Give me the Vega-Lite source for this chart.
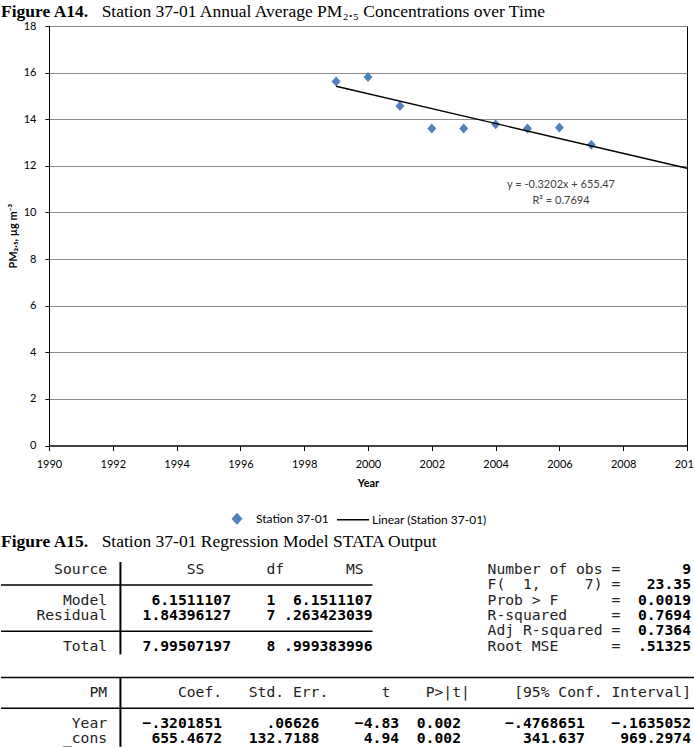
{
  "$schema": "https://vega.github.io/schema/vega-lite/v6.json",
  "background": "white",
  "padding": {"top": 2, "left": 0, "right": 0, "bottom": 0},
  "spacing": 43,
  "config": {
    "view": {"stroke": null},
    "axis": {"labelFont": "Lato", "titleFont": "Lato"}
  },
  "datasets": {
    "pm": [
      {"year": 1999, "pm": 15.62, "series": "Station 37-01"},
      {"year": 2000, "pm": 15.81, "series": "Station 37-01"},
      {"year": 2001, "pm": 14.57, "series": "Station 37-01"},
      {"year": 2002, "pm": 13.60, "series": "Station 37-01"},
      {"year": 2003, "pm": 13.60, "series": "Station 37-01"},
      {"year": 2004, "pm": 13.78, "series": "Station 37-01"},
      {"year": 2005, "pm": 13.60, "series": "Station 37-01"},
      {"year": 2006, "pm": 13.64, "series": "Station 37-01"},
      {"year": 2007, "pm": 12.90, "series": "Station 37-01"}
    ],
    "trend": [
      {"year": 1999, "pm": 15.417, "series": "Linear (Station 37-01)"},
      {"year": 2010, "pm": 11.895, "series": "Linear (Station 37-01)"}
    ],
    "anova_head": [
      {"row": "header1", "Source": "Source", "SS": "SS", "df": "df", "MS": "MS"}
    ],
    "anova": [
      {"Source": "Model", "SS": "6.1511107", "df": "1", "MS": "6.1511107"},
      {"Source": "Residual", "SS": "1.84396127", "df": "7", "MS": ".263423039"},
      {"Source": "Total", "SS": "7.99507197", "df": "8", "MS": ".999383996"}
    ],
    "fit": [
      {"row": "header1", "stat": "Number of obs", "value": "9"},
      {"row": "rule1", "stat": "F(\u00a0\u00a01,\u00a0\u00a0\u00a0\u00a0\u00a07)", "value": "23.35"},
      {"row": "Model", "stat": "Prob > F", "value": "0.0019"},
      {"row": "Residual", "stat": "R-squared", "value": "0.7694"},
      {"row": "rule2", "stat": "Adj R-squared", "value": "0.7364"},
      {"row": "Total", "stat": "Root MSE", "value": ".51325"}
    ],
    "coef_head": [
      {"row": "header2", "PM": "PM", "coef": "Coef.", "se": "Std. Err.", "t": "t", "p": "P>|t|", "ci": "[95% Conf. Interval]"}
    ],
    "coef": [
      {"PM": "Year", "coef": "\u2212.3201851", "se": ".06626", "t": "\u22124.83", "p": "0.002", "lo": "\u2212.4768651", "hi": "\u2212.1635052"},
      {"PM": "_cons", "coef": "655.4672", "se": "132.7188", "t": "4.94", "p": "0.002", "lo": "341.637", "hi": "969.2974"}
    ]
  },
  "vconcat": [
    {
      "width": 638,
      "height": 419.5,
      "view": {"stroke": "#000000", "strokeWidth": 1},
      "title": {
        "text": "Figure A14.",
        "subtitle": "\u200b\u00a0\u00a0\u00a0\u00a0\u00a0\u00a0\u00a0\u00a0\u00a0\u00a0\u00a0\u00a0\u00a0\u00a0\u00a0\u00a0\u00a0\u00a0\u00a0\u00a0\u00a0\u00a0\u00a0Station 37-01 Annual Average PM\u2082.\u2085 Concentrations over Time",
        "anchor": "start",
        "frame": "group",
        "dx": -48,
        "offset": 0,
        "font": "Liberation Serif",
        "fontSize": 17.5,
        "fontWeight": "bold",
        "color": "#000000",
        "subtitleFont": "Liberation Serif",
        "subtitleFontSize": 17.5,
        "subtitleFontWeight": "normal",
        "subtitleColor": "#000000",
        "subtitlePadding": -17.5
      },
      "layer": [
        {
          "data": {"name": "pm"},
          "mark": {"type": "point", "filled": true, "opacity": 1, "size": 1024, "strokeWidth": 1.5},
          "encoding": {
            "x": {
              "field": "year", "type": "quantitative",
              "scale": {"domain": [1990, 2010], "nice": false, "zero": false},
              "axis": {
                "values": [1990, 1992, 1994, 1996, 1998, 2000, 2002, 2004, 2006, 2008, 2010],
                "format": "d", "title": "Year", "grid": false, "labelFlush": false,
                "labelFontSize": 11, "labelColor": "#000000", "labelPadding": 8,
                "tickSize": 5, "tickColor": "#000000", "domainColor": "#000000",
                "titleFontSize": 11, "titleFontWeight": "bold", "titleColor": "#000000", "titlePadding": 8
              }
            },
            "y": {
              "field": "pm", "type": "quantitative",
              "scale": {"domain": [0, 18], "nice": false},
              "axis": {
                "values": [0, 2, 4, 6, 8, 10, 12, 14, 16, 18],
                "title": "PM\u2082.\u2085, \u00b5g m\u207b\u00b3", "grid": true, "gridColor": "#8c8c8c", "gridWidth": 1,
                "labelFlush": false,
                "labelFontSize": 11, "labelColor": "#000000", "labelPadding": 9,
                "tickSize": 4, "tickColor": "#000000", "domainColor": "#000000",
                "titleFontSize": 11, "titleFontWeight": "bold", "titleColor": "#000000", "titlePadding": 5
              }
            },
            "color": {
              "field": "series", "type": "nominal",
              "scale": {"domain": ["Station 37-01", "Linear (Station 37-01)"], "range": ["#4f81bd", "#000000"]},
              "legend": {
                "orient": "none", "legendX": 171, "legendY": 475.75, "direction": "horizontal",
                "title": null, "padding": 0, "labelFont": "Lato", "labelFontSize": 12, "labelColor": "#000000",
                "labelOffset": 2, "columnPadding": 5, "symbolSize": 1024, "symbolStrokeWidth": 1.5
              }
            },
            "shape": {
              "field": "series", "type": "nominal",
              "scale": {"domain": ["Station 37-01", "Linear (Station 37-01)"], "range": ["M-0.28,0L0,-0.31L0.28,0L0,0.31Z", "stroke"]},
              "legend": {
                "orient": "none", "legendX": 171, "legendY": 475.75, "direction": "horizontal",
                "title": null, "padding": 0, "labelFont": "Lato", "labelFontSize": 12, "labelColor": "#000000",
                "labelOffset": 2, "columnPadding": 5, "symbolSize": 1024, "symbolStrokeWidth": 1.5
              }
            }
          }
        },
        {
          "data": {"name": "trend"},
          "mark": {"type": "line", "strokeWidth": 1.4},
          "encoding": {
            "x": {"field": "year", "type": "quantitative"},
            "y": {"field": "pm", "type": "quantitative"},
            "color": {"field": "series", "type": "nominal"}
          }
        },
        {
          "data": {"values": [{"eq": "y = -0.3202x + 655.47\nR\u00b2 = 0.7694"}]},
          "mark": {"type": "text", "lineBreak": "\n", "lineHeight": 16, "font": "Lato", "fontSize": 11, "color": "#404040", "baseline": "middle", "align": "center"},
          "encoding": {
            "x": {"datum": 2006.05, "type": "quantitative"},
            "y": {"datum": 11.16, "type": "quantitative"},
            "text": {"field": "eq"}
          }
        }
      ]
    },
    {
      "width": 638,
      "height": 184.8,
      "view": {"stroke": null},
      "title": {
        "text": "Figure A15.",
        "subtitle": "\u200b\u00a0\u00a0\u00a0\u00a0\u00a0\u00a0\u00a0\u00a0\u00a0\u00a0\u00a0\u00a0\u00a0\u00a0\u00a0\u00a0\u00a0\u00a0\u00a0\u00a0\u00a0\u00a0\u00a0Station 37-01 Regression Model STATA Output",
        "anchor": "start",
        "frame": "group",
        "dx": -48,
        "offset": 11,
        "font": "Liberation Serif",
        "fontSize": 17.5,
        "fontWeight": "bold",
        "color": "#000000",
        "subtitleFont": "Liberation Serif",
        "subtitleFontSize": 17.5,
        "subtitleFontWeight": "normal",
        "subtitleColor": "#000000",
        "subtitlePadding": -17.5
      },
      "layer": [
        {"data": {"name": "anova_head"}, "mark": {"type": "text", "font": "DejaVu Sans Mono", "fontSize": 14.7, "align": "right", "baseline": "middle", "color": "#222222"},
         "encoding": {"x": {"datum": 12, "type": "quantitative", "scale": {"domain": [0, 78], "range": [-48, 642], "nice": false, "zero": false}, "axis": null},
                      "y": {"field": "row", "type": "nominal", "scale": {"type": "band", "domain": ["header1", "rule1", "Model", "Residual", "rule2", "Total", "blank", "rule3", "header2", "rule4", "Year", "_cons"], "paddingInner": 0, "paddingOuter": 0}, "axis": null},
                      "text": {"field": "Source"}}},
        {"data": {"name": "anova_head"}, "mark": {"type": "text", "font": "DejaVu Sans Mono", "fontSize": 14.7, "align": "right", "baseline": "middle", "color": "#222222"},
         "encoding": {"x": {"datum": 23, "type": "quantitative", "axis": null}, "y": {"field": "row", "type": "nominal", "axis": null}, "text": {"field": "SS"}}},
        {"data": {"name": "anova_head"}, "mark": {"type": "text", "font": "DejaVu Sans Mono", "fontSize": 14.7, "align": "right", "baseline": "middle", "color": "#222222"},
         "encoding": {"x": {"datum": 32, "type": "quantitative", "axis": null}, "y": {"field": "row", "type": "nominal", "axis": null}, "text": {"field": "df"}}},
        {"data": {"name": "anova_head"}, "mark": {"type": "text", "font": "DejaVu Sans Mono", "fontSize": 14.7, "align": "right", "baseline": "middle", "color": "#222222"},
         "encoding": {"x": {"datum": 41, "type": "quantitative", "axis": null}, "y": {"field": "row", "type": "nominal", "axis": null}, "text": {"field": "MS"}}},

        {"data": {"name": "anova"}, "mark": {"type": "text", "font": "DejaVu Sans Mono", "fontSize": 14.7, "align": "right", "baseline": "middle", "color": "#222222"},
         "encoding": {"x": {"datum": 12, "type": "quantitative", "axis": null}, "y": {"field": "Source", "type": "nominal", "axis": null}, "text": {"field": "Source"}}},
        {"data": {"name": "anova"}, "mark": {"type": "text", "font": "DejaVu Sans Mono", "fontSize": 14.7, "fontWeight": "bold", "align": "right", "baseline": "middle", "color": "#000000"},
         "encoding": {"x": {"datum": 26, "type": "quantitative", "axis": null}, "y": {"field": "Source", "type": "nominal", "axis": null}, "text": {"field": "SS"}}},
        {"data": {"name": "anova"}, "mark": {"type": "text", "font": "DejaVu Sans Mono", "fontSize": 14.7, "fontWeight": "bold", "align": "right", "baseline": "middle", "color": "#000000"},
         "encoding": {"x": {"datum": 31, "type": "quantitative", "axis": null}, "y": {"field": "Source", "type": "nominal", "axis": null}, "text": {"field": "df"}}},
        {"data": {"name": "anova"}, "mark": {"type": "text", "font": "DejaVu Sans Mono", "fontSize": 14.7, "fontWeight": "bold", "align": "right", "baseline": "middle", "color": "#000000"},
         "encoding": {"x": {"datum": 42, "type": "quantitative", "axis": null}, "y": {"field": "Source", "type": "nominal", "axis": null}, "text": {"field": "MS"}}},

        {"data": {"name": "fit"}, "mark": {"type": "text", "font": "DejaVu Sans Mono", "fontSize": 14.7, "align": "left", "baseline": "middle", "color": "#222222"},
         "encoding": {"x": {"datum": 55, "type": "quantitative", "axis": null}, "y": {"field": "row", "type": "nominal", "axis": null}, "text": {"field": "stat"}}},
        {"data": {"name": "fit"}, "mark": {"type": "text", "font": "DejaVu Sans Mono", "fontSize": 14.7, "align": "center", "baseline": "middle", "color": "#222222", "text": "="},
         "encoding": {"x": {"datum": 69.5, "type": "quantitative", "axis": null}, "y": {"field": "row", "type": "nominal", "axis": null}}},
        {"data": {"name": "fit"}, "mark": {"type": "text", "font": "DejaVu Sans Mono", "fontSize": 14.7, "fontWeight": "bold", "align": "right", "baseline": "middle", "color": "#000000"},
         "encoding": {"x": {"datum": 78, "type": "quantitative", "axis": null}, "y": {"field": "row", "type": "nominal", "axis": null}, "text": {"field": "value"}}},

        {"data": {"name": "coef_head"}, "mark": {"type": "text", "font": "DejaVu Sans Mono", "fontSize": 14.7, "align": "right", "baseline": "middle", "color": "#222222"},
         "encoding": {"x": {"datum": 12, "type": "quantitative", "axis": null}, "y": {"field": "row", "type": "nominal", "axis": null}, "text": {"field": "PM"}}},
        {"data": {"name": "coef_head"}, "mark": {"type": "text", "font": "DejaVu Sans Mono", "fontSize": 14.7, "align": "right", "baseline": "middle", "color": "#222222"},
         "encoding": {"x": {"datum": 25, "type": "quantitative", "axis": null}, "y": {"field": "row", "type": "nominal", "axis": null}, "text": {"field": "coef"}}},
        {"data": {"name": "coef_head"}, "mark": {"type": "text", "font": "DejaVu Sans Mono", "fontSize": 14.7, "align": "right", "baseline": "middle", "color": "#222222"},
         "encoding": {"x": {"datum": 37, "type": "quantitative", "axis": null}, "y": {"field": "row", "type": "nominal", "axis": null}, "text": {"field": "se"}}},
        {"data": {"name": "coef_head"}, "mark": {"type": "text", "font": "DejaVu Sans Mono", "fontSize": 14.7, "align": "right", "baseline": "middle", "color": "#222222"},
         "encoding": {"x": {"datum": 44, "type": "quantitative", "axis": null}, "y": {"field": "row", "type": "nominal", "axis": null}, "text": {"field": "t"}}},
        {"data": {"name": "coef_head"}, "mark": {"type": "text", "font": "DejaVu Sans Mono", "fontSize": 14.7, "align": "right", "baseline": "middle", "color": "#222222"},
         "encoding": {"x": {"datum": 53, "type": "quantitative", "axis": null}, "y": {"field": "row", "type": "nominal", "axis": null}, "text": {"field": "p"}}},
        {"data": {"name": "coef_head"}, "mark": {"type": "text", "font": "DejaVu Sans Mono", "fontSize": 14.7, "align": "right", "baseline": "middle", "color": "#222222"},
         "encoding": {"x": {"datum": 78, "type": "quantitative", "axis": null}, "y": {"field": "row", "type": "nominal", "axis": null}, "text": {"field": "ci"}}},

        {"data": {"name": "coef"}, "mark": {"type": "text", "font": "DejaVu Sans Mono", "fontSize": 14.7, "align": "right", "baseline": "middle", "color": "#222222"},
         "encoding": {"x": {"datum": 12, "type": "quantitative", "axis": null}, "y": {"field": "PM", "type": "nominal", "axis": null}, "text": {"field": "PM"}}},
        {"data": {"name": "coef"}, "mark": {"type": "text", "font": "DejaVu Sans Mono", "fontSize": 14.7, "fontWeight": "bold", "align": "right", "baseline": "middle", "color": "#000000"},
         "encoding": {"x": {"datum": 25, "type": "quantitative", "axis": null}, "y": {"field": "PM", "type": "nominal", "axis": null}, "text": {"field": "coef"}}},
        {"data": {"name": "coef"}, "mark": {"type": "text", "font": "DejaVu Sans Mono", "fontSize": 14.7, "fontWeight": "bold", "align": "right", "baseline": "middle", "color": "#000000"},
         "encoding": {"x": {"datum": 36, "type": "quantitative", "axis": null}, "y": {"field": "PM", "type": "nominal", "axis": null}, "text": {"field": "se"}}},
        {"data": {"name": "coef"}, "mark": {"type": "text", "font": "DejaVu Sans Mono", "fontSize": 14.7, "fontWeight": "bold", "align": "right", "baseline": "middle", "color": "#000000"},
         "encoding": {"x": {"datum": 45, "type": "quantitative", "axis": null}, "y": {"field": "PM", "type": "nominal", "axis": null}, "text": {"field": "t"}}},
        {"data": {"name": "coef"}, "mark": {"type": "text", "font": "DejaVu Sans Mono", "fontSize": 14.7, "fontWeight": "bold", "align": "right", "baseline": "middle", "color": "#000000"},
         "encoding": {"x": {"datum": 52, "type": "quantitative", "axis": null}, "y": {"field": "PM", "type": "nominal", "axis": null}, "text": {"field": "p"}}},
        {"data": {"name": "coef"}, "mark": {"type": "text", "font": "DejaVu Sans Mono", "fontSize": 14.7, "fontWeight": "bold", "align": "right", "baseline": "middle", "color": "#000000"},
         "encoding": {"x": {"datum": 66, "type": "quantitative", "axis": null}, "y": {"field": "PM", "type": "nominal", "axis": null}, "text": {"field": "lo"}}},
        {"data": {"name": "coef"}, "mark": {"type": "text", "font": "DejaVu Sans Mono", "fontSize": 14.7, "fontWeight": "bold", "align": "right", "baseline": "middle", "color": "#000000"},
         "encoding": {"x": {"datum": 78, "type": "quantitative", "axis": null}, "y": {"field": "PM", "type": "nominal", "axis": null}, "text": {"field": "hi"}}},

        {"data": {"values": [{}]}, "mark": {"type": "rule", "color": "#000000", "strokeWidth": 1.5},
         "encoding": {"x": {"datum": 0, "type": "quantitative", "axis": null}, "x2": {"datum": 42}, "y": {"datum": "rule1", "type": "nominal", "bandPosition": 0.5, "axis": null}}},
        {"data": {"values": [{}]}, "mark": {"type": "rule", "color": "#000000", "strokeWidth": 1.5},
         "encoding": {"x": {"datum": 0, "type": "quantitative", "axis": null}, "x2": {"datum": 42}, "y": {"datum": "rule2", "type": "nominal", "bandPosition": 0.5, "axis": null}}},
        {"data": {"values": [{}]}, "mark": {"type": "rule", "color": "#000000", "strokeWidth": 1.5},
         "encoding": {"x": {"datum": 0, "type": "quantitative", "axis": null}, "x2": {"datum": 78.45}, "y": {"datum": "rule3", "type": "nominal", "bandPosition": 0.5, "axis": null}}},
        {"data": {"values": [{}]}, "mark": {"type": "rule", "color": "#000000", "strokeWidth": 1.5},
         "encoding": {"x": {"datum": 0, "type": "quantitative", "axis": null}, "x2": {"datum": 78.45}, "y": {"datum": "rule4", "type": "nominal", "bandPosition": 0.5, "axis": null}}},
        {"data": {"values": [{}]}, "mark": {"type": "rule", "color": "#000000", "strokeWidth": 2},
         "encoding": {"x": {"datum": 13.5, "type": "quantitative", "axis": null}, "y": {"datum": "header1", "type": "nominal", "bandPosition": 0, "axis": null}, "y2": {"datum": "Total", "bandPosition": 1}}},
        {"data": {"values": [{}]}, "mark": {"type": "rule", "color": "#000000", "strokeWidth": 2},
         "encoding": {"x": {"datum": 13.5, "type": "quantitative", "axis": null}, "y": {"datum": "rule3", "type": "nominal", "bandPosition": 0.5, "axis": null}, "y2": {"datum": "_cons", "bandPosition": 1}}}
      ]
    }
  ]
}
